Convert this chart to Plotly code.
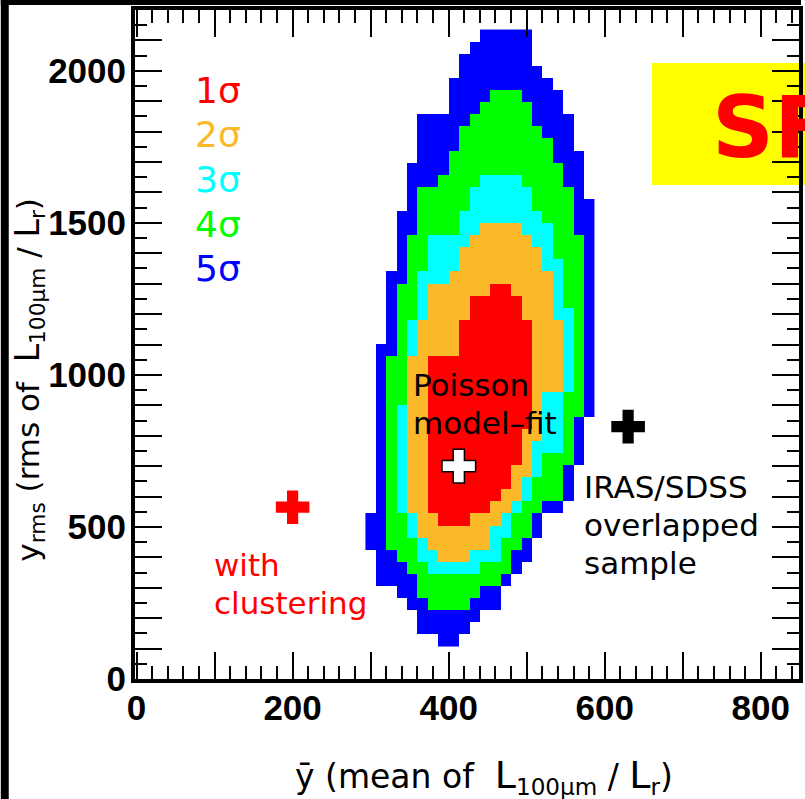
import math
import plotly.graph_objects as go

# ---------------- data ----------------
# histogram bins: columns k (x edges = k * X_BIN), rows listed from the top (r0) down
X_BIN = 800 / 60
COL_FIRST, COL_LAST = 22, 44          # column edge indices covered by the grid
Y_BOTTOM, Y_BIN, N_ROWS = 106.0, 39.8, 51

# [left_edge, right_edge) in column indices per row (top row first), None = absent
blue_span = [[33,38],[32,38],[31,38],[31,39],[30,40],[30,41],[30,41],[27,42],[27,42],[27,42],
             [27,43],[26,43],[26,43],[26,43],[26,44],[25,44],[25,44],[25,44],[25,44],[25,44],
             [24,44],[24,44],[24,44],[24,44],[24,44],[24,44],[23,44],[23,44],[23,44],[23,44],
             [23,44],[23,44],[23,43],[23,43],[23,43],[23,43],[23,42],[23,42],[23,42],[23,41],
             [22,39],[22,39],[22,38],[23,38],[23,37],[23,36],[25,35],[26,35],[27,33],[27,32],
             [29,31]]
green_span = [None,None,None,None,None,[34,37],[33,38],[32,38],[31,39],[31,40],
              [30,40],[30,41],[29,41],[27,42],[27,42],[27,42],[27,42],[26,43],[26,43],[26,43],
              [26,43],[25,43],[25,43],[25,43],[25,43],[25,43],[25,43],[24,43],[24,43],[24,43],
              [24,43],[24,43],[24,42],[24,42],[24,42],[24,42],[24,41],[24,41],[24,41],[24,39],
              [24,38],[24,38],[24,37],[25,36],[26,36],[27,35],[27,33],[28,32],None,None,
              None]
cyan_span = [None]*12 + [[33,37],[32,38],[32,38],[31,39],[31,40],[28,40],[28,40],[28,41],
             [27,41],[27,41],[27,41],[27,42],[26,42],[26,42],[26,42],[26,42],[26,42],[26,42],
             [26,41],[25,41],[25,41],[25,41],[25,41],[25,39],[25,39],[25,38],[25,38],[25,37],
             [26,36],[26,36],[27,35],[27,35],[28,33]] + [None]*6
orange_span = [None]*16 + [[33,37],[32,38],[31,39],[31,39],[30,40],[28,40],[28,40],[28,40],
               [27,41],[27,41],[27,41],[26,41],[26,41],[26,41],[26,39],[26,39],[26,39],[26,39],
               [26,38],[26,38],[26,38],[26,37],[26,37],[26,36],[27,35],[27,34],[28,34],[29,32]] + [None]*7
red_span = [None]*21 + [[34,36],[32,37],[32,37],[31,38],[31,38],[31,38],[28,38],[28,38],[28,38],
            [28,38],[28,38],[28,38],[28,37],[28,37],[28,37],[28,36],[28,36],[28,35],[28,34],
            [29,32]] + [None]*10

level_spans = [(1, red_span), (2, orange_span), (3, cyan_span), (4, green_span), (5, blue_span)]
level_labels = ["1σ", "2σ", "3σ", "4σ", "5σ"]
level_colors = ["#ff0000", "#fbb829", "#00ffff", "#00ff00", "#0000ff"]
level_label_y = [1935, 1790, 1642, 1493, 1350]

points_x = [413, 200, 630]
points_y = [700, 565, 830]
points_color = ["white", "#ff0000", "black"]

# text lines (each line drawn separately to keep the tight line spacing)
note_lines = ["Poisson", "model–fit", "with", "clustering", "IRAS/SDSS", "overlapped", "sample"]
note_x = [352, 352, 97, 97, 571, 571, 571]
note_y = [967, 842, 375, 250, 632, 507, 382]
note_color = ["black", "black", "#ff0000", "#ff0000", "black", "black", "black"]

x_ticks = list(range(0, 801, 100))
x_ticktext = [str(v) if v % 200 == 0 else "" for v in x_ticks]
y_ticks = list(range(0, 2201, 100))
y_ticktext = [str(v) if v % 500 == 0 else "" for v in y_ticks]

# ---------------- build grid ----------------
x_edges = [k * X_BIN for k in range(COL_FIRST, COL_LAST + 1)]
y_edges = [Y_BOTTOM + j * Y_BIN for j in range(N_ROWS + 1)]
z = []
for j in range(N_ROWS):
    r = N_ROWS - 1 - j
    row = []
    for k in range(COL_FIRST, COL_LAST):
        val = None
        for lev, spans in level_spans:
            s = spans[r]
            if s is not None and s[0] <= k < s[1]:
                val = lev
                break
        row.append(val if val is not None else math.nan)
    z.append(row)

cs = []
for i, c in enumerate(level_colors):
    cs.append([i / 5, c])
    cs.append([(i + 1) / 5, c])

fig = go.Figure()
fig.add_trace(go.Heatmap(x=x_edges, y=y_edges, z=z, zmin=0.5, zmax=5.5,
                         colorscale=cs, showscale=False, hoverinfo="skip"))
fig.add_trace(go.Scatter(
    x=points_x, y=points_y, mode="markers", hoverinfo="skip",
    marker=dict(symbol="cross", size=28, color=points_color,
                line=dict(color=["black", "#ff0000", "black"], width=[1.5, 0, 0]))))

FONT = "Liberation Sans, Arial, sans-serif"
TFONT = "DejaVu Sans, sans-serif"
ann = []
for lab, col, yy in zip(level_labels, level_colors, level_label_y):
    ann.append(dict(x=72, y=yy, text=lab, showarrow=False, xanchor="left",
                    yanchor="middle", font=dict(family=TFONT, size=36, color=col)))
for t, xx, yy, c in zip(note_lines, note_x, note_y, note_color):
    ann.append(dict(x=xx, y=yy, text=t, showarrow=False, xanchor="left", yanchor="middle",
                    align="left", font=dict(family=TFONT, size=31, color=c)))
# SF box
ann.append(dict(xref="paper", yref="paper", x=(713 - 135) / 668, y=(679 - 127) / 669,
                text="SF", showarrow=False, xanchor="left", yanchor="middle",
                font=dict(family="DejaVu Sans, sans-serif", size=86, color="#ff0000", weight="bold")))
# axis titles
ann.append(dict(xref="paper", yref="paper", x=(486 - 135) / 668, y=(679 - 776) / 669,
                text="ȳ (mean of  <span style='font-size:38px'>L</span><sub>100μm</sub> / <span style='font-size:38px'>L</span><sub>r</sub>)",
                showarrow=False, xanchor="center", yanchor="middle",
                font=dict(family=TFONT, size=33, color="black")))
ann.append(dict(xref="paper", yref="paper", x=(28 - 135) / 668, y=(679 - 380) / 669,
                text="y<sub>rms</sub> (rms of  <span style='font-size:33px'>L</span><sub>100μm</sub> / <span style='font-size:33px'>L</span><sub>r</sub>)",
                showarrow=False, textangle=-90, xanchor="center", yanchor="middle",
                font=dict(family=TFONT, size=31, color="black")))

shapes = [
    dict(type="rect", xref="paper", yref="paper", x0=(655 - 135) / 668, x1=(830 - 135) / 668,
         y0=(679 - 185) / 669, y1=(679 - 63) / 669, fillcolor="#ffff00", line=dict(width=0), layer="below"),
    dict(type="rect", xref="paper", yref="paper", x0=-135 / 668, x1=(8 - 135) / 668,
         y0=(679 - 799) / 669, y1=679 / 669, fillcolor="black", line=dict(width=0)),
    dict(type="rect", xref="paper", yref="paper", x0=-135 / 668, x1=670 / 668,
         y0=(679 - 5) / 669, y1=679 / 669 + 0.01, fillcolor="black", line=dict(width=0)),
]

axis_common = dict(showline=True, linewidth=4, linecolor="black", mirror="allticks",
                   ticks="inside", tickwidth=2, ticklen=27, tickcolor="black",
                   showgrid=False, zeroline=False,
                   tickfont=dict(family=FONT, size=35, color="black", weight="bold"))
fig.update_xaxes(range=[-2, 849], tickmode="array", tickvals=x_ticks, ticktext=x_ticktext,
                 ticklabelstandoff=-5,
                 minor=dict(dtick=20, ticklen=13, tickwidth=2, ticks="inside", tickcolor="black"),
                 **axis_common)
fig.update_yaxes(range=[0, 2200], tickmode="array", tickvals=y_ticks, ticktext=y_ticktext,
                 ticklabelstandoff=-2,
                 minor=dict(dtick=50, ticklen=12, tickwidth=2, ticks="inside", tickcolor="black"),
                 **axis_common)
fig.update_layout(width=805, height=799, margin=dict(l=135, r=2, t=10, b=120),
                  paper_bgcolor="white", plot_bgcolor="white", showlegend=False,
                  annotations=ann, shapes=shapes)
fig.write_html("out.html")
